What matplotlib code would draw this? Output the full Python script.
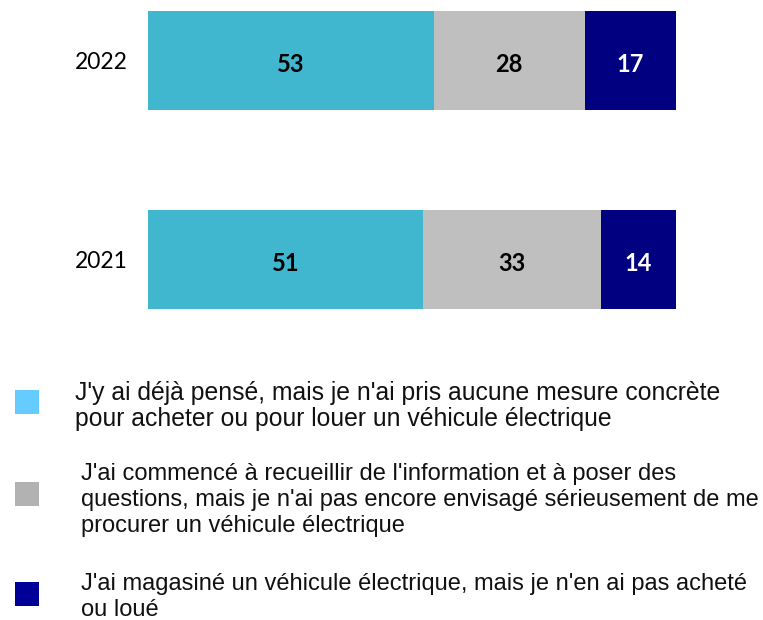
import matplotlib
matplotlib.use("Agg")
import matplotlib.pyplot as plt
from matplotlib.patches import Rectangle

years = ["2021", "2022"]
thought_only = [51, 53]
gathering_info = [33, 28]
shopped = [14, 17]
series = [thought_only, gathering_info, shopped]
bar_colors = ["#40B7CE", "#BFBFBF", "#000080"]
label_colors = ["black", "black", "white"]
legend_colors = ["#66CCFF", "#B2B2B2", "#000099"]
legend_labels = [
    "J'y ai déjà pensé, mais je n'ai pris aucune mesure concrète\npour acheter ou pour louer un véhicule électrique",
    "J'ai commencé à recueillir de l'information et à poser des\nquestions, mais je n'ai pas encore envisagé sérieusement de me\nprocurer un véhicule électrique",
    "J'ai magasiné un véhicule électrique, mais je n'en ai pas acheté\nou loué",
]

W, H = 763, 620
fig = plt.figure(figsize=(W / 100, H / 100), dpi=100)

x0 = 148
ppu = 5.39
ax_w = 100 * ppu
ax = fig.add_axes([x0 / W, 1 - 320 / H, ax_w / W, 320 / H])
ax.set_xlim(0, 100)
ax.set_ylim(-0.304, 1.304)
ypos = list(range(len(years)))
left = [0] * len(years)
for vals, c, lc in zip(series, bar_colors, label_colors):
    bars = ax.barh(ypos, vals, left=left, height=0.5, color=c, edgecolor="none")
    for b, v in zip(bars, vals):
        ax.annotate(str(v), (b.get_x() + b.get_width() / 2, b.get_y() + b.get_height() / 2),
                    xytext=(0, -3), textcoords="offset points",
                    ha="center", va="center", color=lc, fontsize=17,
                    fontweight="bold", family="Lato")
    left = [l + v for l, v in zip(left, vals)]
ax.set_yticks(ypos)
ax.set_yticklabels(years, family="Lato", fontsize=16.5)
ax.tick_params(axis="y", length=0, pad=14.5)
ax.set_xticks([])
for s in ax.spines.values():
    s.set_visible(False)

marker_centers = [402, 494, 594]
text_x = [75, 81, 81]
text_centers = [406, 500, 597]
text_sizes = [17.8, 17.05, 17.05]
text_spacing = [1.14, 1.21, 1.21]
for mc, tx, tc, fs, ls, col, lab in zip(marker_centers, text_x, text_centers, text_sizes,
                                        text_spacing, legend_colors, legend_labels):
    fig.patches.append(Rectangle((15 / W, 1 - (mc + 12) / H), 24 / W, 24 / H,
                                 transform=fig.transFigure, facecolor=col, edgecolor="none"))
    fig.text(tx / W, 1 - tc / H, lab, ha="left", va="center", fontsize=fs,
             family="Liberation Sans", color="#111111", linespacing=ls)

fig.savefig("out.png", dpi=100)
